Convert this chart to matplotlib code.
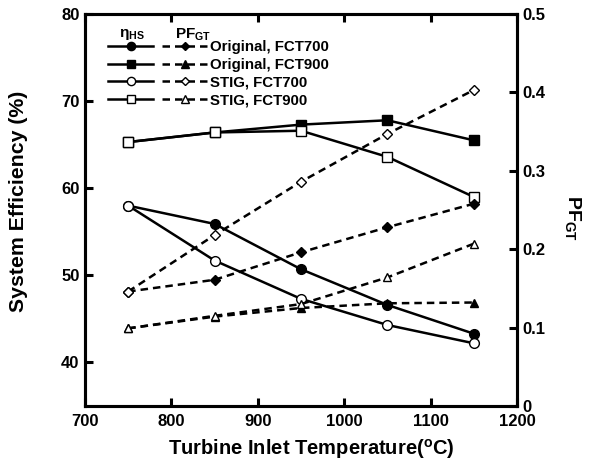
import numpy as np
import matplotlib
matplotlib.use('Agg')
import matplotlib.pyplot as plt
from matplotlib.legend_handler import HandlerTuple

plt.rcParams['font.family'] = 'Liberation Sans'
plt.rcParams['font.weight'] = 'bold'
plt.rcParams['mathtext.fontset'] = 'custom'
plt.rcParams['mathtext.rm'] = 'Liberation Sans:bold'
plt.rcParams['mathtext.bf'] = 'Liberation Sans:bold'
plt.rcParams['mathtext.it'] = 'Liberation Sans:bold'

# turbine inlet temperature (C)
tit = [750, 850, 950, 1050, 1150]

# system efficiency (%)
eff_orig700 = [58.0, 55.9, 50.7, 46.6, 43.3]
eff_orig900 = [65.3, 66.4, 67.3, 67.8, 65.5]
eff_stig700 = [58.0, 51.7, 47.3, 44.3, 42.2]
eff_stig900 = [65.3, 66.4, 66.6, 63.6, 59.0]

# PF_GT
pf_orig700 = [0.146, 0.161, 0.196, 0.228, 0.258]
pf_orig900 = [0.099, 0.114, 0.125, 0.131, 0.132]
pf_stig700 = [0.146, 0.218, 0.286, 0.347, 0.403]
pf_stig900 = [0.099, 0.115, 0.130, 0.164, 0.207]

labels = ['Original, FCT700', 'Original, FCT900', 'STIG, FCT700', 'STIG, FCT900']

fig = plt.figure(figsize=(5.96, 4.71), dpi=100)
ax = fig.add_axes([0.1426, 0.138, 0.7248, 0.8323])
ax2 = ax.twinx()

lw = 1.8
ms = 7
h1 = ax.plot(tit, eff_orig700, '-o', color='k', lw=lw, ms=ms, mfc='k')[0]
h2 = ax.plot(tit, eff_orig900, '-s', color='k', lw=lw, ms=ms, mfc='k')[0]
h3 = ax.plot(tit, eff_stig700, '-o', color='k', lw=lw, ms=ms, mfc='w')[0]
h4 = ax.plot(tit, eff_stig900, '-s', color='k', lw=lw, ms=ms, mfc='w')[0]

d = (0, (3, 2))
p1 = ax2.plot(tit, pf_orig700, 'D', ls=d, color='k', lw=lw, ms=5, mfc='k')[0]
p2 = ax2.plot(tit, pf_orig900, '^', ls=d, color='k', lw=lw, ms=6, mfc='k')[0]
p3 = ax2.plot(tit, pf_stig700, 'D', ls=d, color='k', lw=lw, ms=5, mfc='w', mew=1)[0]
p4 = ax2.plot(tit, pf_stig900, '^', ls=d, color='k', lw=lw, ms=6, mfc='w', mew=1)[0]

ax.set_xlim(700, 1200)
ax.set_ylim(35, 80)
ax2.set_ylim(0, 0.5)
ax.set_xticks([700, 800, 900, 1000, 1100, 1200])
ax.set_yticks([40, 50, 60, 70, 80])
ax2.set_yticks([0, 0.1, 0.2, 0.3, 0.4, 0.5])
ax2.set_yticklabels(['0', '0.1', '0.2', '0.3', '0.4', '0.5'])

for a in (ax, ax2):
    for s in a.spines.values():
        s.set_linewidth(2.2)
    a.tick_params(direction='in', length=6, width=2.2, labelsize=12)
ax.tick_params(axis='x', top=True, pad=6)
ax.tick_params(axis='y', pad=4)
ax2.tick_params(axis='y', pad=4)

ax.set_xlabel(r'Turbine Inlet Temperature($^{\mathbf{o}}$C)', fontsize=14.5, fontweight='bold')
ax.xaxis.set_label_coords(0.525, -0.11)
ax.xaxis.label.set(va='center', rotation_mode='default')

ax.set_ylabel('System Efficiency (%)', fontsize=15.3, fontweight='bold')
ax.yaxis.set_label_coords(-0.155, 0.523)
ax.yaxis.label.set(va='center', ha='center', rotation_mode='default')

ax2.set_ylabel(r'PF$_{\mathbf{GT}}$', fontsize=14, fontweight='bold', rotation=270)
ax2.yaxis.set_label_coords(1.13, 0.48)
ax2.yaxis.label.set(va='center', ha='center', rotation_mode='default')

leg = ax2.legend([(h1, p1), (h2, p2), (h3, p3), (h4, p4)], labels,
                 handler_map={tuple: HandlerTuple(ndivide=None, pad=0.6)},
                 loc='upper left', bbox_to_anchor=(0.03, 0.96), frameon=False,
                 handlelength=6.6, handletextpad=0.2, labelspacing=0.25,
                 borderaxespad=0.3, markerscale=0.85,
                 prop={'weight': 'bold', 'size': 10.8})
ax.text(0.079, 0.968, r'$\eta_{\mathrm{HS}}$', transform=ax.transAxes, fontsize=11, va='top')
ax.text(0.208, 0.968, r'PF$_{\mathrm{GT}}$', transform=ax.transAxes, fontsize=11, va='top')

fig.savefig('out.png', dpi=100)
